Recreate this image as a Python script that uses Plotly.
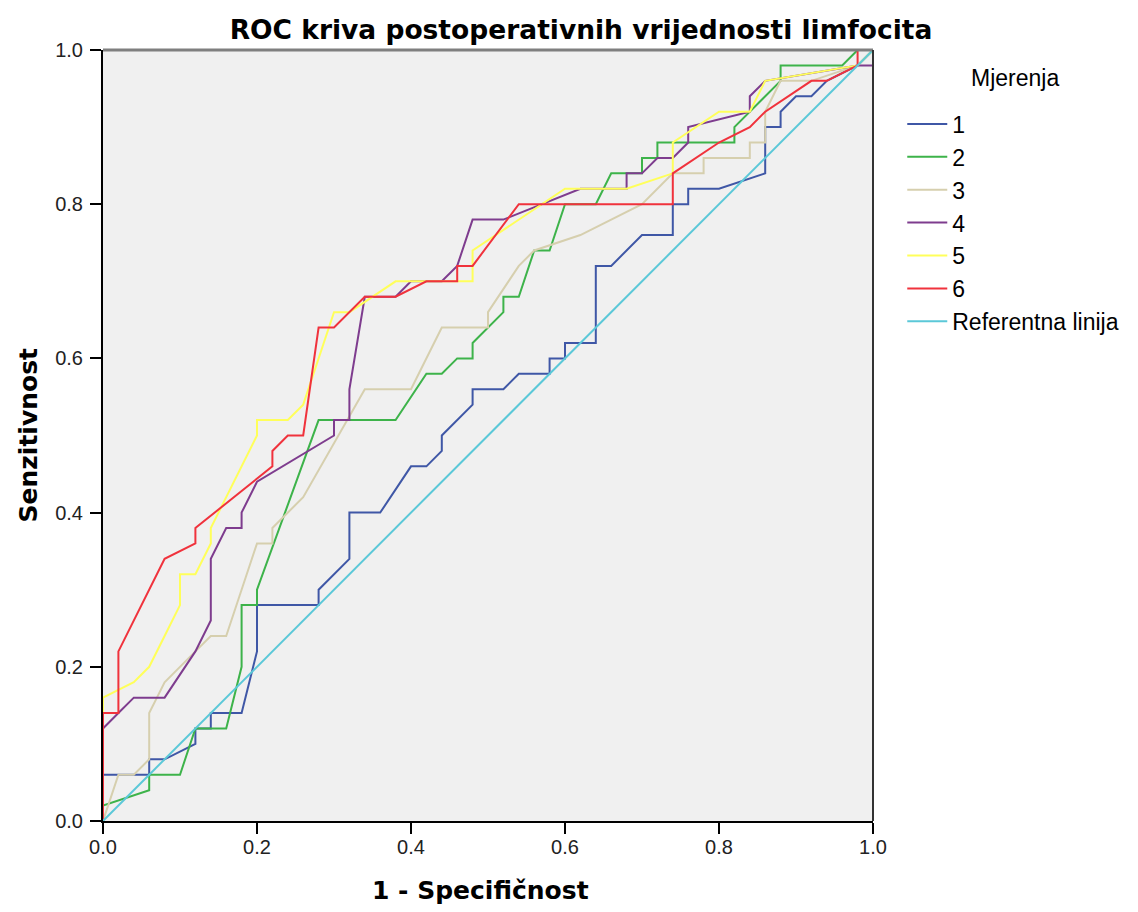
import plotly.graph_objects as go

# ---- data ----
series_names = ["1", "2", "3", "4", "5", "6"]

m1_x = [0, 0, 0.06, 0.06, 0.08, 0.12, 0.12, 0.14, 0.14, 0.18, 0.20, 0.20, 0.28, 0.28, 0.32, 0.32, 0.36, 0.40, 0.42, 0.44, 0.44, 0.46, 0.48, 0.48, 0.52, 0.54, 0.58, 0.58, 0.60, 0.60, 0.64, 0.64, 0.66, 0.70, 0.74, 0.74, 0.76, 0.76, 0.80, 0.86, 0.86, 0.88, 0.88, 0.90, 0.92, 0.94, 0.98, 1.0]
m1_y = [0, 0.06, 0.06, 0.08, 0.08, 0.10, 0.12, 0.12, 0.14, 0.14, 0.22, 0.28, 0.28, 0.30, 0.34, 0.40, 0.40, 0.46, 0.46, 0.48, 0.50, 0.52, 0.54, 0.56, 0.56, 0.58, 0.58, 0.60, 0.60, 0.62, 0.62, 0.72, 0.72, 0.76, 0.76, 0.80, 0.80, 0.82, 0.82, 0.84, 0.90, 0.90, 0.92, 0.94, 0.94, 0.96, 0.98, 1.0]

m2_x = [0, 0, 0.06, 0.06, 0.10, 0.12, 0.16, 0.18, 0.18, 0.20, 0.20, 0.28, 0.38, 0.42, 0.44, 0.46, 0.48, 0.48, 0.52, 0.52, 0.54, 0.56, 0.58, 0.60, 0.64, 0.66, 0.70, 0.70, 0.72, 0.72, 0.82, 0.82, 0.88, 0.88, 0.96, 0.98, 1.0]
m2_y = [0, 0.02, 0.04, 0.06, 0.06, 0.12, 0.12, 0.20, 0.28, 0.28, 0.30, 0.52, 0.52, 0.58, 0.58, 0.60, 0.60, 0.62, 0.66, 0.68, 0.68, 0.74, 0.74, 0.80, 0.80, 0.84, 0.84, 0.86, 0.86, 0.88, 0.88, 0.90, 0.96, 0.98, 0.98, 1.0, 1.0]

m3_x = [0, 0.02, 0.04, 0.06, 0.06, 0.08, 0.12, 0.14, 0.16, 0.20, 0.22, 0.22, 0.26, 0.34, 0.40, 0.44, 0.50, 0.50, 0.54, 0.56, 0.62, 0.66, 0.70, 0.74, 0.78, 0.78, 0.84, 0.84, 0.86, 0.86, 0.88, 0.92, 0.98, 1.0]
m3_y = [0, 0.06, 0.06, 0.08, 0.14, 0.18, 0.22, 0.24, 0.24, 0.36, 0.36, 0.38, 0.42, 0.56, 0.56, 0.64, 0.64, 0.66, 0.72, 0.74, 0.76, 0.78, 0.80, 0.84, 0.84, 0.86, 0.86, 0.88, 0.88, 0.92, 0.96, 0.96, 0.98, 1.0]

m4_x = [0, 0, 0.02, 0.04, 0.08, 0.12, 0.14, 0.14, 0.16, 0.18, 0.18, 0.20, 0.30, 0.30, 0.32, 0.32, 0.34, 0.38, 0.40, 0.44, 0.46, 0.48, 0.52, 0.62, 0.68, 0.68, 0.70, 0.72, 0.74, 0.76, 0.76, 0.84, 0.84, 0.86, 0.98, 1.0, 1.0]
m4_y = [0, 0.12, 0.14, 0.16, 0.16, 0.22, 0.26, 0.34, 0.38, 0.38, 0.40, 0.44, 0.50, 0.52, 0.52, 0.56, 0.68, 0.68, 0.70, 0.70, 0.72, 0.78, 0.78, 0.82, 0.82, 0.84, 0.84, 0.86, 0.86, 0.88, 0.90, 0.92, 0.94, 0.96, 0.98, 0.98, 1.0]

m5_x = [0, 0, 0.04, 0.06, 0.08, 0.10, 0.10, 0.12, 0.14, 0.14, 0.20, 0.20, 0.24, 0.26, 0.30, 0.32, 0.38, 0.48, 0.48, 0.60, 0.68, 0.74, 0.74, 0.80, 0.84, 0.86, 0.98, 1.0]
m5_y = [0, 0.16, 0.18, 0.20, 0.24, 0.28, 0.32, 0.32, 0.36, 0.38, 0.50, 0.52, 0.52, 0.54, 0.66, 0.66, 0.70, 0.70, 0.74, 0.82, 0.82, 0.84, 0.88, 0.92, 0.92, 0.96, 0.98, 1.0]

m6_x = [0, 0, 0.02, 0.02, 0.08, 0.12, 0.12, 0.22, 0.22, 0.24, 0.26, 0.28, 0.30, 0.34, 0.38, 0.42, 0.46, 0.46, 0.48, 0.54, 0.74, 0.74, 0.80, 0.84, 0.86, 0.92, 0.94, 0.98, 0.98, 1.0]
m6_y = [0, 0.14, 0.14, 0.22, 0.34, 0.36, 0.38, 0.46, 0.48, 0.50, 0.50, 0.64, 0.64, 0.68, 0.68, 0.70, 0.70, 0.72, 0.72, 0.80, 0.80, 0.84, 0.88, 0.90, 0.92, 0.96, 0.96, 0.98, 1.0, 1.0]

ref_x = [0.0, 1.0]
ref_y = [0.0, 1.0]
ref_name = "Referentna linija"

tick_vals = [0.0, 0.2, 0.4, 0.6, 0.8, 1.0]
tick_text = ["0.0", "0.2", "0.4", "0.6", "0.8", "1.0"]

title_text = "ROC kriva postoperativnih vrijednosti limfocita"
x_title = "1 - Specifičnost"
y_title = "Senzitivnost"
legend_title = "Mjerenja"

colors = ["#3F57A6", "#3DB34A", "#D6CFAE", "#7E3C8E", "#FFFF5A", "#F0323C"]
ref_color = "#5BC8D8"

xs = [m1_x, m2_x, m3_x, m4_x, m5_x, m6_x]
ys = [m1_y, m2_y, m3_y, m4_y, m5_y, m6_y]

# page body has an 8px margin, so the figure is 16px smaller than the window
W, H = 1122, 896

fig = go.Figure()
for i, name in enumerate(series_names):
    fig.add_trace(go.Scatter(
        x=xs[i], y=ys[i], mode="lines", name=name,
        line=dict(color=colors[i], width=2),
        legendgroup="g" + name,
    ))
fig.add_trace(go.Scatter(
    x=ref_x, y=ref_y, mode="lines", name=ref_name,
    line=dict(color=ref_color, width=2),
    legendgroup="gref",
))

axis_common = dict(
    range=[0, 1], tickvals=tick_vals, ticktext=tick_text,
    showgrid=False, zeroline=False, showline=True,
    linecolor="#000000", linewidth=2,
    ticks="outside", ticklen=11, tickwidth=2, tickcolor="#000000",
    tickfont=dict(family="Liberation Sans, Arial, sans-serif", size=20, color="#222222"),
)

fig.update_layout(
    width=W, height=H,
    margin=dict(l=95, r=257, t=42, b=83, autoexpand=False),
    paper_bgcolor="#FFFFFF",
    plot_bgcolor="#F0F0F0",
    title=dict(
        text="<b>" + title_text + "</b>",
        x=573 / W, xanchor="center",
        y=1 - 22 / H, yanchor="middle",
        font=dict(family="DejaVu Sans, sans-serif", size=26.5, color="#000000"),
    ),
    xaxis=dict(**axis_common, ticklabelstandoff=-4),
    yaxis=dict(**axis_common, ticklabelstandoff=3),
    showlegend=True,
    legend=dict(
        x=1.038, xanchor="left", y=0.932, yanchor="top",
        bgcolor="rgba(0,0,0,0)",
        font=dict(family="Liberation Sans, Arial, sans-serif", size=23, color="#000000"),
        tracegroupgap=0,
        itemwidth=40,
    ),
    annotations=[
        dict(text=legend_title, xref="paper", yref="paper",
             x=1.184, y=0.9637, xanchor="center", yanchor="middle",
             showarrow=False,
             font=dict(family="Liberation Sans, Arial, sans-serif", size=23, color="#000000")),
        dict(text="<b>" + x_title + "</b>", xref="paper", yref="paper",
             x=0.49, y=0, yshift=-69, xanchor="center", yanchor="middle",
             showarrow=False,
             font=dict(family="DejaVu Sans, sans-serif", size=25, color="#000000")),
        dict(text="<b>" + y_title + "</b>", xref="paper", yref="paper",
             x=0, y=0.5, xshift=-75, xanchor="center", yanchor="middle",
             textangle=-90, showarrow=False,
             font=dict(family="DejaVu Sans, sans-serif", size=25, color="#000000")),
    ],
    shapes=[
        dict(type="line", xref="paper", yref="paper", x0=0, x1=1, y0=1, y1=1,
             line=dict(color="#7F7F7F", width=3)),
        dict(type="line", xref="paper", yref="paper", x0=1, x1=1, y0=0, y1=1,
             line=dict(color="#333333", width=2)),
    ],
)

fig.write_html("out.html")
